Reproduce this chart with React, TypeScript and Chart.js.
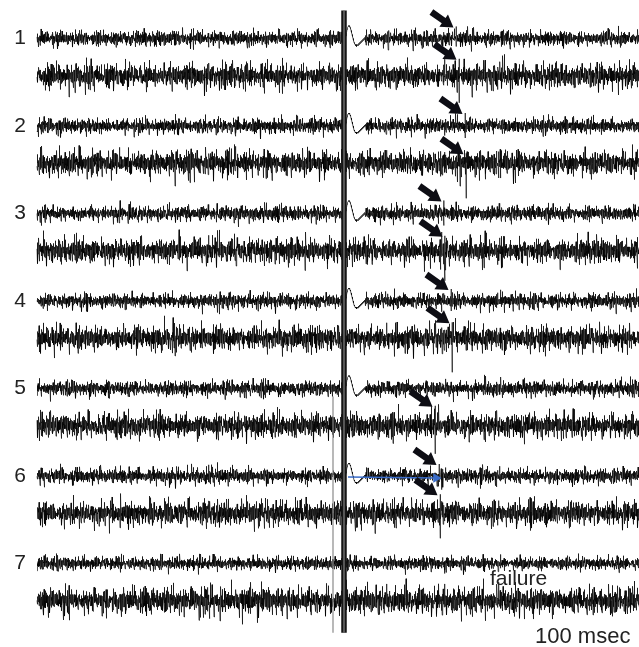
import React, { useEffect, useRef } from "react";
import { Chart, registerables } from "chart.js";

Chart.register(...registerables);

// ---- data ----
const ROW_LABELS = ["1", "2", "3", "4", "5", "6", "7"];
const TRACE_END_MS = 602;
const STIM_MS = 307;
const STIM2_MS = 296;
const SAMPLE_STEP_MS = 0.2;

// noise amplitude of each trace (row 1 top, row 1 bottom, row 2 top, ...)
const NOISE_AMP = [8, 13, 8, 13, 8, 13, 8, 13, 8, 13, 8, 13, 7, 14];

// hand-typed noise templates
const NOISE_A = [0.3, -0.8, 0.5, 0.1, -0.4, 0.9, -0.2, -0.7, 0.6, 0.0, -0.5, 0.8, -0.9, 0.2, 0.4, -0.3, 0.7, -0.6, 0.1, -0.1, 0.9, -0.8, 0.3, -0.4, 0.6, -0.2, 0.0, -0.9, 0.5, 0.8, -0.5, 0.2, -0.7, 0.4, -0.1, 0.7, -0.3, 0.1, -0.6, 0.9, -0.4, 0.3, -0.8, 0.6, 0.0, -0.2, 0.5, -0.7, 0.8, -0.5, 0.2, -0.9, 0.4, 0.1, -0.3, 0.7, -0.6, 0.3, -0.1, 0.9, -0.8, 0.5, -0.4, 0.2, -0.7, 0.6, 0.0, -0.3, 0.8, -0.5, 0.1, -0.9, 0.4, 0.7, -0.2, 0.3, -0.6, 0.5, -0.8, 0.1, 0.9, -0.4, 0.2, -0.1, 0.6, -0.7, 0.3, -0.5, 0.8, 0.0, -0.3, 0.4, -0.9, 0.7, -0.2, 0.5, -0.6, 0.1, -0.8, 0.6, -0.4];
const NOISE_B = [0.2, -0.1, 1.6, -0.3, 0.1, -1.4, 0.0, 0.3, -0.2, 0.1, 1.2, -0.4, 0.2, -1.8, 0.1, 0.0, -0.3, 0.4, 1.5, -0.2, 0.1, -0.1, -1.3, 0.3, 0.0, 0.2, 1.9, -0.4, 0.1, -0.2, 0.3, -1.6, 0.0, 0.2, -0.1, 1.1, -0.3, 0.4, -1.2, 0.1, 0.0, -0.2, 1.7, 0.3, -0.1, 0.2, -1.5, 0.0, 0.1, -0.3, 1.3, -0.2, 0.4, -0.1, -1.9, 0.2, 0.0, 0.1, 1.4, -0.3, 0.2, -1.1, 0.0, 0.3, -0.2, 1.8, -0.1, 0.1, -1.7, 0.2, 0.0, -0.3, 1.0, 0.1, -0.4, 0.2, -1.4, 0.3, 0.0, 1.6, -0.2, 0.1, -1.0];
const NOISE_C = [0, 0, 0, 1.3, 0, 0, 0, 0, 0, -1.1, 0, 0, 0, 0, 0, 0, 1.5, 0, 0, 0, 0, 0, -1.4, 0, 0, 0, 0, 0, 0, 0, 1.0, 0, 0, 0, 0, -1.6, 0, 0, 0, 0, 0, 0, 0, 1.2, 0, 0, 0, 0, 0, 0, -1.0, 0, 0, 0, 0, 0, 1.6, 0, 0, 0, 0, 0, -1.3, 0, 0, 0, 0, 0, 0, 0, 1.1, 0, 0, 0, 0, -1.2, 0, 0, 0, 0, 0, 0, 1.4, 0, 0, 0, 0, 0, -1.5, 0, 0, 0, 0, 0, 0, 0, 0];

// stimulus artifact: ms after stimulus and upward deflection
const ARTIFACT_DT = [1.5, 2, 2.5, 3, 3.5, 4, 4.5, 5, 5.5, 6, 6.5, 7, 7.5, 8, 8.5, 9, 9.5, 10, 10.5, 11, 11.5, 12, 12.5, 13, 13.5, 14, 14.5, 15, 15.5, 16, 16.5, 17, 17.5, 18, 18.5, 19, 19.5, 20, 20.5, 21];
const ARTIFACT_V = [0, 3, 6, 9, 11, 12, 13, 12, 13, 11, 10, 8, 6, 4, 2, 0, -2, -4, -5, -6, -7, -6, -8, -7, -6, -7, -5, -6, -4, -5, -3, -4, -2, -3, -1, -2, 0, -1, 1, 0];
const ARTIFACT_TRACES = [0, 2, 4, 6, 8, 10];

// evoked spikes (arrowed)
const SPIKE_TRACE = [0, 1, 2, 3, 4, 5, 6, 7, 9, 10, 11];
const SPIKE_MS = [419, 422, 428, 429, 407, 408, 414, 415, 398, 402, 403];
const SPIKE_UP = [12, 17, 13, 10, 13, 15, 12, 16, 20, 12, 19];
const SPIKE_DOWN = [8, 27, 12, 35, 12, 30, 10, 34, 28, 6, 25];

// blue latency marker on row 6
const BLUE_TRACE = 10;
const BLUE_FROM_MS = 311;
const BLUE_TO_MS = 399;

const TEXT_FAILURE = "failure";
const TEXT_SCALE = "100 msec";

// ---- layout ----
const W = 639;
const H = 647;
const TOP0 = 38.5;
const ROW_GAP = 87.5;
const PAIR_GAP = 37.3;
const FONT = "'Liberation Sans', Arial, sans-serif";

const baseline = (k: number) => TOP0 + Math.floor(k / 2) * ROW_GAP + (k % 2) * PAIR_GAP;

function buildTrace(k: number) {
  const base = baseline(k);
  const amp = NOISE_AMP[k];
  const pts: { x: number; y: number }[] = [];
  const hasArt = ARTIFACT_TRACES.includes(k);
  const artStart = STIM_MS + ARTIFACT_DT[0];
  const artEnd = STIM_MS + ARTIFACT_DT[ARTIFACT_DT.length - 1];
  let artDone = false;
  const spikes = SPIKE_TRACE.map((t, j) => (t === k ? j : -1)).filter((j) => j >= 0);
  let si = 0;
  const n = Math.round(TRACE_END_MS / SAMPLE_STEP_MS);
  for (let i = 0; i <= n; i++) {
    const t = i * SAMPLE_STEP_MS;
    while (si < spikes.length && SPIKE_MS[spikes[si]] <= t) {
      const j = spikes[si];
      const s = SPIKE_MS[j];
      pts.push({ x: s, y: base });
      pts.push({ x: s, y: base - SPIKE_UP[j] });
      pts.push({ x: s, y: base + SPIKE_DOWN[j] });
      pts.push({ x: s, y: base });
      si++;
    }
    if (hasArt && t >= artStart && t <= artEnd) {
      if (!artDone) {
        ARTIFACT_DT.forEach((dt, m) => pts.push({ x: STIM_MS + dt, y: base - ARTIFACT_V[m] }));
        artDone = true;
      }
      continue;
    }
    const a = NOISE_A[(i * 7 + 23 * k) % NOISE_A.length];
    const b = NOISE_B[(i + 37 * k) % NOISE_B.length];
    const c = NOISE_C[(i * 5 + 11 * k) % NOISE_C.length];
    pts.push({ x: t, y: base - amp * (0.5 * a + 0.25 * b + 0.55 * c) });
  }
  return pts;
}

const arrowPlugin = {
  id: "arrowsAndText",
  afterDatasetsDraw(chart: any) {
    const { ctx, scales } = chart;
    const xs = scales.x;
    const ys = scales.y;
    ctx.save();
    // black arrows
    SPIKE_TRACE.forEach((k, j) => {
      const tipX = xs.getPixelForValue(SPIKE_MS[j]) - 2.5;
      const tipY = ys.getPixelForValue(baseline(k) - SPIKE_UP[j]) + 1;
      const len = 27;
      const ang = Math.atan2(14, 20);
      const ux = Math.cos(ang);
      const uy = Math.sin(ang);
      const px = -uy;
      const py = ux;
      const headL = 12;
      const headW = 7.5;
      const shaftW = 3.3;
      const bx = tipX - ux * headL;
      const by = tipY - uy * headL;
      const tx = tipX - ux * len;
      const ty = tipY - uy * len;
      ctx.beginPath();
      ctx.moveTo(tipX, tipY);
      ctx.lineTo(bx + px * headW, by + py * headW);
      ctx.lineTo(bx + px * shaftW, by + py * shaftW);
      ctx.lineTo(tx + px * shaftW, ty + py * shaftW);
      ctx.lineTo(tx - px * shaftW, ty - py * shaftW);
      ctx.lineTo(bx - px * shaftW, by - py * shaftW);
      ctx.lineTo(bx - px * headW, by - py * headW);
      ctx.closePath();
      ctx.fillStyle = "#0d0d14";
      ctx.fill();
    });
    // texts
    ctx.fillStyle = "#222";
    ctx.textAlign = "left";
    ctx.textBaseline = "alphabetic";
    ctx.font = `21px ${FONT}`;
    ctx.fillText(TEXT_FAILURE, xs.getPixelForValue(453), ys.getPixelForValue(baseline(12) + 21));
    ctx.font = `22px ${FONT}`;
    ctx.fillText(TEXT_SCALE, xs.getPixelForValue(498), ys.getPixelForValue(baseline(13) + 42));
    ctx.restore();
  },
};

export default function App() {
  const ref = useRef<HTMLCanvasElement | null>(null);
  useEffect(() => {
    document.body.style.margin = "0";
    const canvas = ref.current;
    if (!canvas) return;
    const traces = NOISE_AMP.map((_, k) => ({
      data: buildTrace(k),
      borderColor: "rgba(0,0,0,0.75)",
      borderWidth: 0.9,
      pointRadius: 0,
      tension: 0,
      order: 2,
    }));
    const top = baseline(0) - 28;
    const bottom = baseline(13) + 32;
    const datasets: any[] = [
      ...traces,
      {
        data: [
          { x: STIM2_MS, y: baseline(8) + 8 },
          { x: STIM2_MS, y: bottom },
        ],
        borderColor: "#8a8a8a",
        borderWidth: 1.2,
        pointRadius: 0,
        order: 1,
      },
      {
        data: [
          { x: STIM_MS, y: top },
          { x: STIM_MS, y: bottom },
        ],
        borderColor: "#151515",
        borderWidth: 5.5,
        pointRadius: 0,
        order: 1,
      },
      {
        data: [
          { x: STIM_MS, y: top },
          { x: STIM_MS, y: bottom },
        ],
        borderColor: "#7a7a7a",
        borderWidth: 1.3,
        pointRadius: 0,
        order: 0,
      },
      {
        data: [
          { x: BLUE_FROM_MS, y: baseline(BLUE_TRACE) + 1 },
          { x: BLUE_TO_MS, y: baseline(BLUE_TRACE) + 2 },
        ],
        borderColor: "#3a6cc8",
        backgroundColor: "#3a6cc8",
        borderWidth: 1.5,
        pointStyle: "triangle",
        pointRotation: 90,
        pointRadius: [0, 4],
        order: 0,
      },
    ];
    const chart = new Chart(canvas, {
      type: "line",
      data: { datasets },
      options: {
        animation: false,
        responsive: false,
        devicePixelRatio: 1,
        parsing: false,
        normalized: true,
        layout: { padding: 0, autoPadding: false },
        plugins: { legend: { display: false }, tooltip: { enabled: false } },
        scales: {
          x: { type: "linear", display: false, min: -7, max: TRACE_END_MS },
          y: {
            type: "linear",
            reverse: true,
            min: 0,
            max: H,
            grid: { display: false, drawTicks: false },
            border: { display: false },
            ticks: {
              autoSkip: false,
              padding: 4,
              color: "#222",
              font: { size: 21, family: FONT },
              callback: (v: any) => ROW_LABELS[Math.round((Number(v) - TOP0) / ROW_GAP)] ?? "",
            },
            afterBuildTicks: (axis: any) => {
              axis.ticks = ROW_LABELS.map((_, r) => ({ value: TOP0 + r * ROW_GAP }));
            },
            afterFit: (axis: any) => {
              axis.width = 30;
              axis.paddingTop = 0;
              axis.paddingBottom = 0;
            },
          },
        },
      },
      plugins: [arrowPlugin],
    });
    return () => chart.destroy();
  }, []);
  return <canvas ref={ref} width={W} height={H} style={{ display: "block", width: W, height: H }} />;
}
